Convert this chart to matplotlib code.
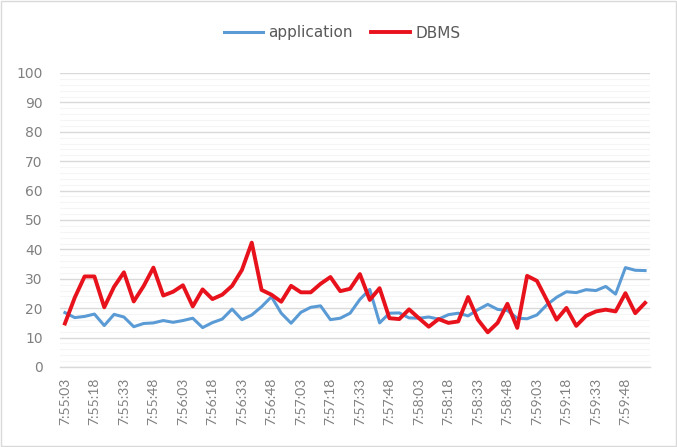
import matplotlib
matplotlib.use("Agg")
import matplotlib.pyplot as plt
from matplotlib.patches import Rectangle
from matplotlib.ticker import MultipleLocator

# 5-second samples from 7:55:03 to 7:59:58 (60 categories)
tick_labels = ["7:55:03", "7:55:18", "7:55:33", "7:55:48", "7:56:03", "7:56:18",
               "7:56:33", "7:56:48", "7:57:03", "7:57:18", "7:57:33", "7:57:48",
               "7:58:03", "7:58:18", "7:58:33", "7:58:48", "7:59:03", "7:59:18",
               "7:59:33", "7:59:48"]

application = [18.5, 16.8, 17.2, 18.0, 14.1, 17.9, 17.0, 13.7, 14.8, 15.0,
               15.8, 15.2, 15.8, 16.6, 13.4, 15.1, 16.3, 19.7, 16.1, 17.7,
               20.5, 23.9, 18.3, 14.9, 18.6, 20.3, 20.8, 16.1, 16.6, 18.3,
               23.0, 26.4, 15.0, 18.3, 18.4, 16.7, 16.6, 17.0, 16.3, 17.8,
               18.3, 17.4, 19.5, 21.3, 19.6, 19.2, 16.6, 16.4, 17.7, 21.1,
               23.7, 25.6, 25.3, 26.3, 26.0, 27.4, 24.8, 33.8, 32.9, 32.8]

dbms = [14.8, 23.6, 30.8, 30.8, 20.3, 27.3, 32.2, 22.3, 27.5, 33.8,
        24.3, 25.6, 27.8, 20.6, 26.4, 23.1, 24.6, 27.6, 33.0, 42.3,
        26.2, 24.6, 22.2, 27.6, 25.4, 25.4, 28.3, 30.6, 25.8, 26.6,
        31.6, 22.8, 26.8, 16.6, 16.3, 19.6, 16.6, 13.7, 16.3, 15.0,
        15.5, 23.8, 16.1, 11.8, 15.0, 21.5, 13.3, 31.0, 29.3, 22.8,
        16.1, 20.1, 14.0, 17.4, 18.9, 19.5, 18.9, 25.1, 18.3, 21.8]

x = list(range(len(dbms)))

plt.rcParams['font.family'] = ['Lato', 'DejaVu Sans']
txt = '#808080'

fig = plt.figure(figsize=(6.77, 4.47), dpi=100)
ax = fig.add_axes([60 / 677, 80 / 447, 590 / 677, 294 / 447])

ax.plot(x, application, color='#5B9BD5', lw=2.2, label='application',
        solid_joinstyle='round', zorder=3)
ax.plot(x, dbms, color='#E8121C', lw=2.8, label='DBMS',
        solid_joinstyle='round', zorder=4)

ax.set_xlim(-0.5, len(x) - 0.5)
ax.set_ylim(0, 100)
ax.yaxis.set_major_locator(MultipleLocator(10))
ax.yaxis.set_minor_locator(MultipleLocator(2))
ax.grid(axis='y', which='major', color='#d9d9d9', lw=1.0, zorder=0)
ax.grid(axis='y', which='minor', color='#f5f5f5', lw=0.8, zorder=0)
ax.set_axisbelow(True)

ax.set_xticks(x[::3])
ax.set_xticklabels(tick_labels, rotation=90, fontsize=10, color=txt)
ax.tick_params(axis='y', colors=txt, length=0, pad=12.5, which='both')
for lab in ax.get_yticklabels():
    lab.set_fontfamily('DejaVu Sans')
    lab.set_fontsize(10)
ax.tick_params(axis='x', length=0, pad=8)

for s in ['top', 'right', 'left']:
    ax.spines[s].set_visible(False)
ax.spines['bottom'].set_color('#d9d9d9')
ax.spines['bottom'].set_linewidth(1.0)

leg = fig.legend(loc='center', bbox_to_anchor=(0.505, 1 - 33 / 447), ncol=2,
                 frameon=False, prop={'family': 'DejaVu Sans', 'size': 11},
                 handlelength=2.6, columnspacing=1.2, handletextpad=0.3)
for t in leg.get_texts():
    t.set_color('#595959')

fig.patches.append(Rectangle((0.002, 0.002), 0.996, 0.996, transform=fig.transFigure,
                             fill=False, edgecolor='#d9d9d9', lw=1.0))

fig.savefig('out.png', dpi=100)
